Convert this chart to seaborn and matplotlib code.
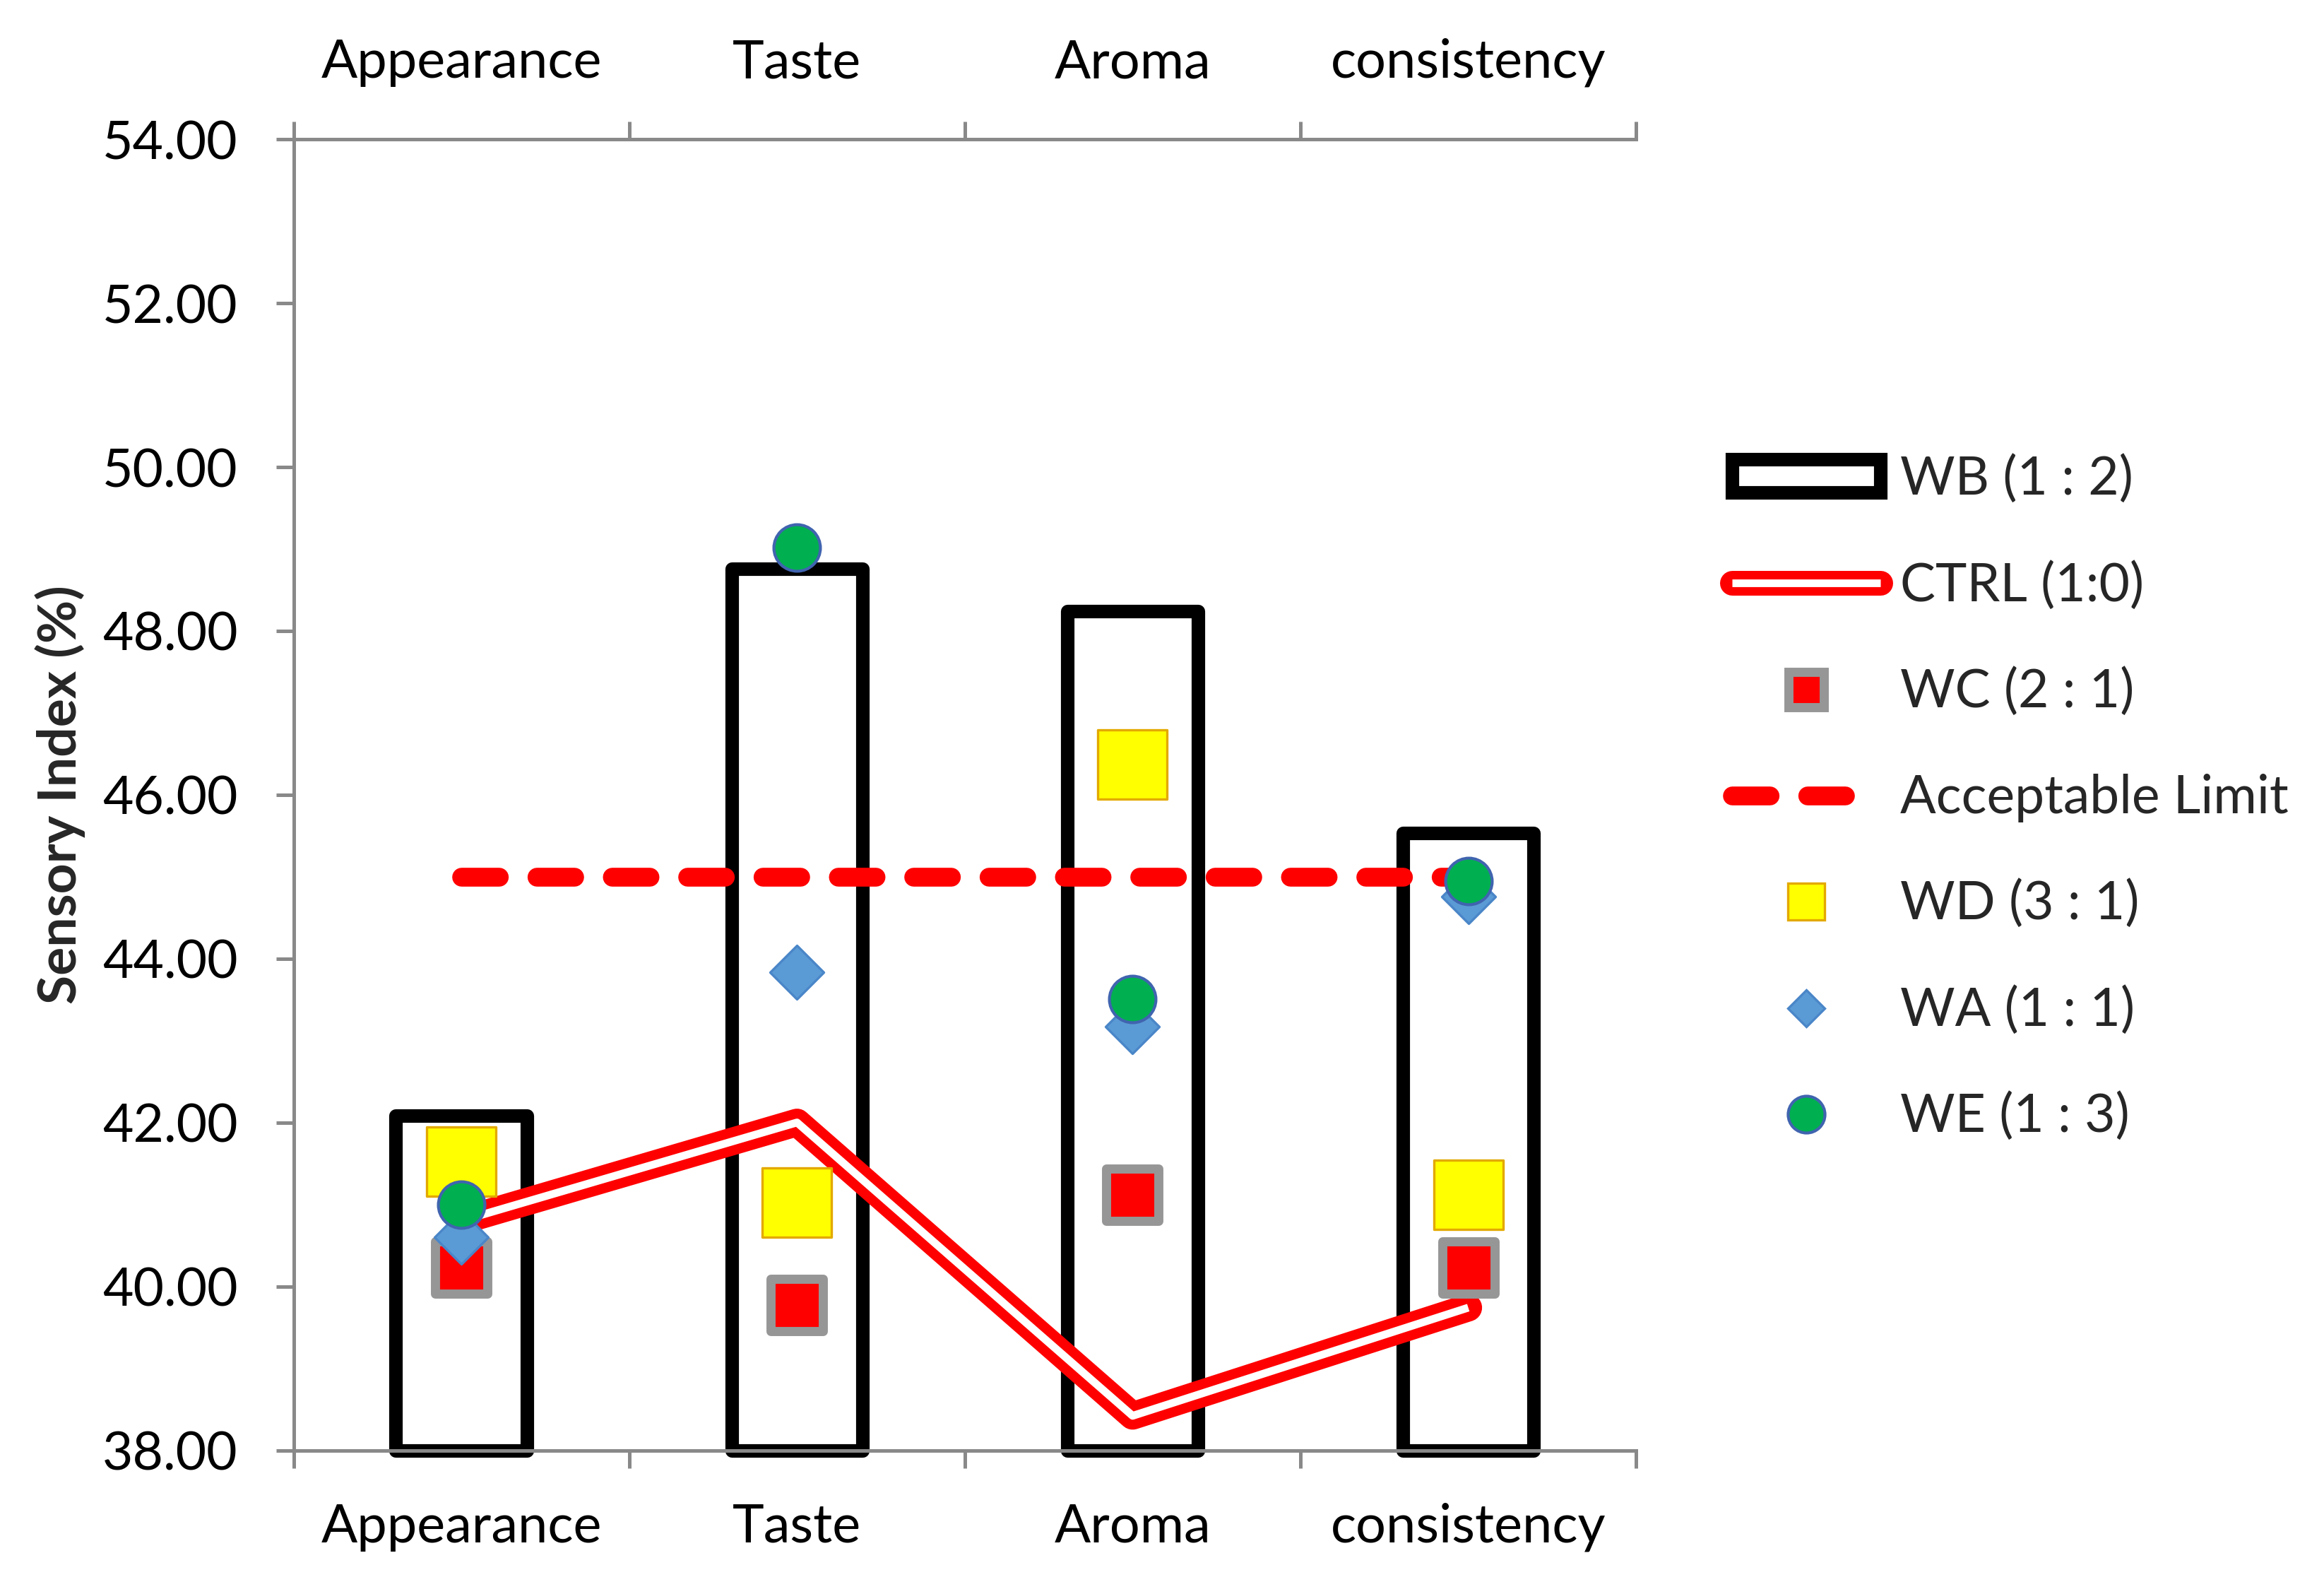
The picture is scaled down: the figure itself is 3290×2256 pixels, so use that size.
import numpy as np
import matplotlib.pyplot as plt
from matplotlib.lines import Line2D
from matplotlib.patches import Patch
from matplotlib.ticker import FormatStrFormatter
import seaborn as sns

# ----------------------------------------------------------
# Data
# ----------------------------------------------------------
categories = ["Appearance", "Taste", "Aroma", "consistency"]
wb_values = [42.08, 48.76, 48.24, 45.53]      # bars
ctrl_values = [40.80, 42.00, 38.42, 39.74]    # double red line
wc_values = [40.23, 39.77, 41.12, 40.23]
limit_values = [45.0, 45.0, 45.0, 45.0]
wd_values = [41.52, 41.02, 46.37, 41.12]
wa_values = [40.60, 43.83, 43.17, 44.76]
we_values = [41.00, 49.02, 43.51, 44.95]

y_min, y_max = 38, 54
GRAY = "#898989"

sns.set_theme(style="white")
plt.rcParams["font.family"] = ["Lato", "DejaVu Sans"]

fig = plt.figure(figsize=(3290 / 300, 2256 / 300), dpi=300)
ax = fig.add_axes([0.1263, 0.0902, 0.5777, 0.8224])

# ----------------------------------------------------------
# Bars (WB) - hollow, thick black outline, starting at the axis floor
# ----------------------------------------------------------
sns.barplot(x=categories, y=wb_values, ax=ax, color="white", saturation=1,
            edgecolor="black", linewidth=4.6, width=0.39, errorbar=None, zorder=2)
for p in ax.patches:
    top = p.get_height()
    p.set_y(y_min)
    p.set_height(top - y_min)
    p.set_clip_on(False)
    p.set_joinstyle("round")

# CTRL double line: thick red with a white core
sns.lineplot(x=categories, y=ctrl_values, ax=ax, color="red", linewidth=9.4,
             sort=False, zorder=3, solid_capstyle="round", solid_joinstyle="round")
sns.lineplot(x=categories, y=ctrl_values, ax=ax, color="white", linewidth=2.65,
             sort=False, zorder=3.1, solid_capstyle="butt", solid_joinstyle="round")

# WC markers
sns.scatterplot(x=categories, y=wc_values, ax=ax, marker="s", s=17.8 ** 2,
                color="red", edgecolor="#969696", linewidth=3.1, zorder=4, legend=False)

# Acceptable limit
sns.lineplot(x=categories, y=limit_values, ax=ax, color="red", linewidth=6.4,
             linestyle=(0, (2.0, 2.0)), dash_capstyle="round", sort=False, zorder=5)

# WD, WA, WE markers
sns.scatterplot(x=categories, y=wd_values, ax=ax, marker="s", s=23.5 ** 2,
                color="#FFFF00", edgecolor="#E3A900", linewidth=0.8, zorder=6, legend=False)
sns.scatterplot(x=categories, y=wa_values, ax=ax, marker="D", s=12.9 ** 2,
                color="#5B9BD5", edgecolor="#4A86C8", linewidth=0.8, zorder=7, legend=False)
sns.scatterplot(x=categories, y=we_values, ax=ax, marker="o", s=15.8 ** 2,
                color="#00B050", edgecolor="#4064AF", linewidth=1.0, zorder=8, legend=False)

# ----------------------------------------------------------
# Axes styling
# ----------------------------------------------------------
ax.set_xlim(-0.5, len(categories) - 0.5)
ax.set_ylim(y_min, y_max)
ax.set_yticks(np.arange(y_min, y_max + 1, 2))
ax.yaxis.set_major_formatter(FormatStrFormatter("%.2f"))
ax.set_xticks(range(len(categories)))
ax.set_xticklabels(categories)
ax.set_xticks(np.arange(-0.5, len(categories), 1), minor=True)
ax.set_xlabel("")

ax.tick_params(axis="x", which="major", length=0, top=True, bottom=True,
               labeltop=True, labelbottom=True, labelsize=18.2, pad=17.8, colors="black")
ax.tick_params(axis="x", which="minor", length=6, width=1.2, color=GRAY,
               top=True, bottom=True, direction="out")
ax.tick_params(axis="y", length=6, width=1.2, color=GRAY, left=True,
               direction="out", labelsize=18, pad=13, labelcolor="black")

for side in ["left", "top", "bottom"]:
    ax.spines[side].set_color(GRAY)
    ax.spines[side].set_linewidth(1.2)
ax.spines["right"].set_visible(False)

ax.set_ylabel("Sensory Index (%)", fontsize=18, fontweight="bold")
ax.yaxis.set_label_coords(-0.155, 0.5)

# ----------------------------------------------------------
# Legend
# ----------------------------------------------------------
handles = [
    Patch(facecolor="white", edgecolor="black", linewidth=4.6, joinstyle="round"),
    (Line2D([], [], color="red", lw=8.4, solid_capstyle="round"),
     Line2D([], [], color="white", lw=2.6, solid_capstyle="butt")),
    Line2D([], [], ls="none", marker="s", ms=12, mfc="red", mec="#969696", mew=3.1),
    Line2D([], [], color="red", lw=6.4, linestyle=(0, (2.0, 2.0)), dash_capstyle="round"),
    Line2D([], [], ls="none", marker="s", ms=12.5, mfc="#FFFF00", mec="#E3A900", mew=0.8),
    Line2D([], [], ls="none", marker="D", ms=8.8, mfc="#5B9BD5", mec="#4A86C8", mew=0.8),
    Line2D([], [], ls="none", marker="o", ms=12.5, mfc="#00B050", mec="#4064AF", mew=1.0),
]
labels = ["WB (1 : 2)", "CTRL (1:0)", "WC (2 : 1)", "Acceptable Limit",
          "WD (3 : 1)", "WA (1 : 1)", "WE (1 : 3)"]
fig.legend(handles, labels, loc="center left", bbox_to_anchor=(0.7454, 0.4995),
           frameon=False, fontsize=18, handlelength=2.8, handleheight=0.6,
           handletextpad=0.37, labelspacing=1.075, borderpad=0, borderaxespad=0)

fig.savefig("out.png", dpi=300)
plt.close(fig)
